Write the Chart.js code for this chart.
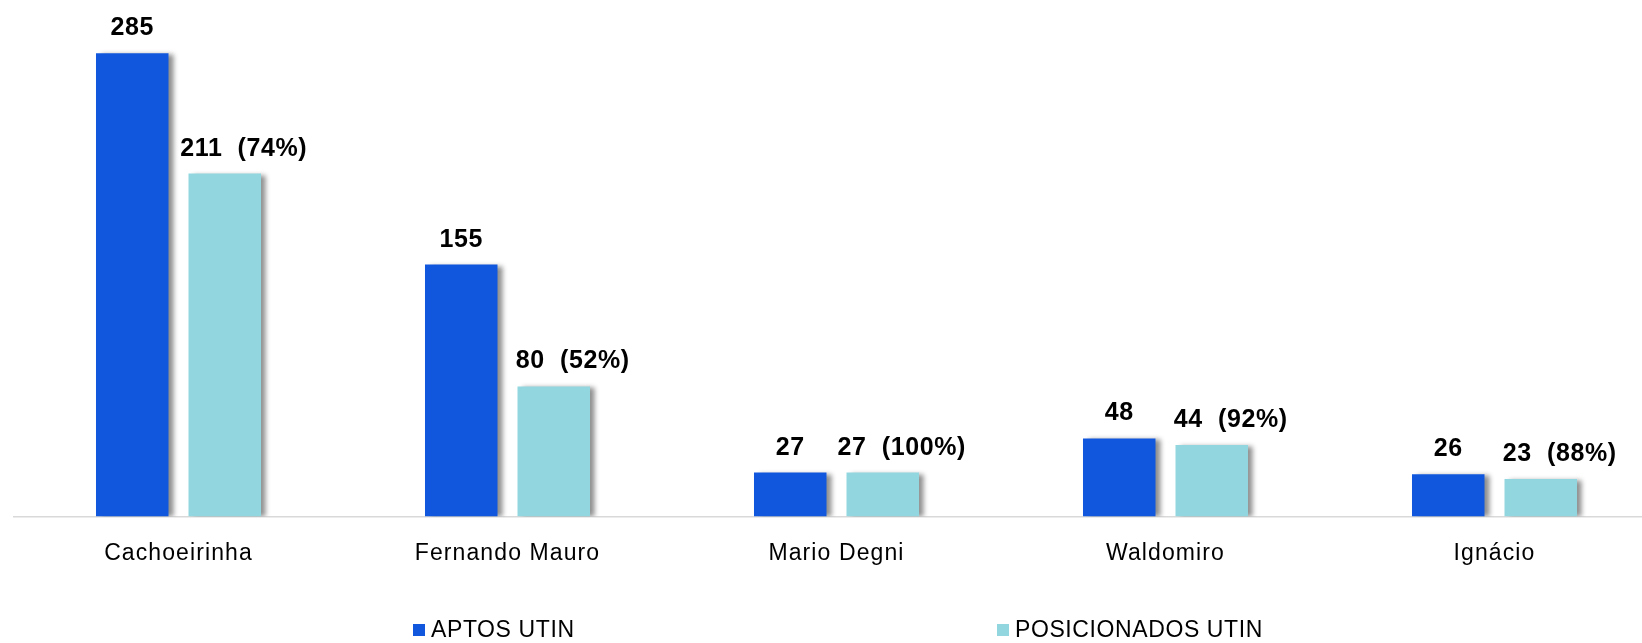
<!DOCTYPE html>
<html>
<head>
<meta charset="utf-8">
<script src="https://cdn.jsdelivr.net/npm/chart.js@4.4.1/dist/chart.umd.min.js"></script>
<style>
  html, body { margin: 0; padding: 0; background: #fff; overflow: hidden; }
  #wrap { width: 1680px; height: 643px; }
</style>
</head>
<body>
<div id="wrap"><canvas id="grafico" width="1680" height="643"></canvas></div>
<script>
// Dados
const unidades = ['Cachoeirinha', 'Fernando Mauro', 'Mario Degni', 'Waldomiro', 'Ignácio'];
const aptos = [285, 155, 27, 48, 26];
const posicionados = [211, 80, 27, 44, 23];
const percentuais = [74, 52, 100, 92, 88];
const nomesSeries = ['APTOS UTIN', 'POSICIONADOS UTIN'];

const corAptos = '#1057DE';
const corPosicionados = '#92D7DF';
const fonte = '"Liberation Sans", Arial, sans-serif';

// Sombra das barras + rótulos + legenda desenhados à mão
const enfeites = {
    id: 'enfeites',
    beforeUpdate(chart) {
        chart.ctx.letterSpacing = '1.1px';
    },
    beforeDraw(chart) {
        chart.ctx.letterSpacing = '1.1px';
    },
    beforeDatasetsDraw(chart) {
        const ctx = chart.ctx;
        ctx.save();
        ctx.shadowColor = 'rgba(0,0,0,0.45)';
        ctx.shadowOffsetX = 5;
        ctx.shadowOffsetY = 1;
        ctx.shadowBlur = 5;
    },
    afterDatasetsDraw(chart) {
        const ctx = chart.ctx;
        ctx.restore();

        ctx.save();
        ctx.font = 'bold 25px ' + fonte;
        ctx.letterSpacing = '0.6px';
        ctx.fillStyle = '#000';
        ctx.textBaseline = 'alphabetic';
        ctx.textAlign = 'center';

        chart.getDatasetMeta(0).data.forEach((barra, i) => {
            ctx.fillText(String(aptos[i]), barra.x, barra.y - 18);
        });
        chart.getDatasetMeta(1).data.forEach((barra, i) => {
            const txt = posicionados[i] + '  (' + percentuais[i] + '%)';
            ctx.fillText(txt, barra.x + 19, barra.y - 18);
        });
        ctx.restore();
    },
    afterDraw(chart) {
        const ctx = chart.ctx;
        const posX = [413, 997];
        const cores = [corAptos, corPosicionados];
        ctx.save();
        ctx.font = '23px ' + fonte;
        ctx.letterSpacing = '0.6px';
        ctx.textBaseline = 'middle';
        ctx.textAlign = 'left';
        nomesSeries.forEach((nome, i) => {
            ctx.fillStyle = cores[i];
            ctx.fillRect(posX[i], 624, 12, 12);
            ctx.fillStyle = '#000';
            ctx.fillText(nome, posX[i] + 18, 631);
        });
        ctx.restore();
    }
};

const ctx = document.getElementById('grafico').getContext('2d');
new Chart(ctx, {
    type: 'bar',
    data: {
        labels: unidades,
        datasets: [
            {
                label: nomesSeries[0],
                data: aptos,
                backgroundColor: corAptos,
                borderWidth: 0,
                categoryPercentage: 0.5623,
                barPercentage: 0.784
            },
            {
                label: nomesSeries[1],
                data: posicionados,
                backgroundColor: corPosicionados,
                borderWidth: 0,
                categoryPercentage: 0.5623,
                barPercentage: 0.784
            }
        ]
    },
    options: {
        responsive: false,
        animation: false,
        layout: {
            padding: { left: 14, right: 21, top: 29, bottom: 53 }
        },
        plugins: {
            legend: { display: false },
            tooltip: { enabled: false }
        },
        scales: {
            x: {
                grid: { display: false, drawTicks: false },
                border: { display: true, color: '#D9D9D9', width: 1.5 },
                ticks: {
                    color: '#000',
                    font: { family: fonte, size: 23 },
                    padding: 23,
                    maxRotation: 0,
                    autoSkip: false
                }
            },
            y: {
                display: false,
                min: 0,
                max: 300
            }
        }
    },
    plugins: [enfeites]
});
</script>
</body>
</html>
